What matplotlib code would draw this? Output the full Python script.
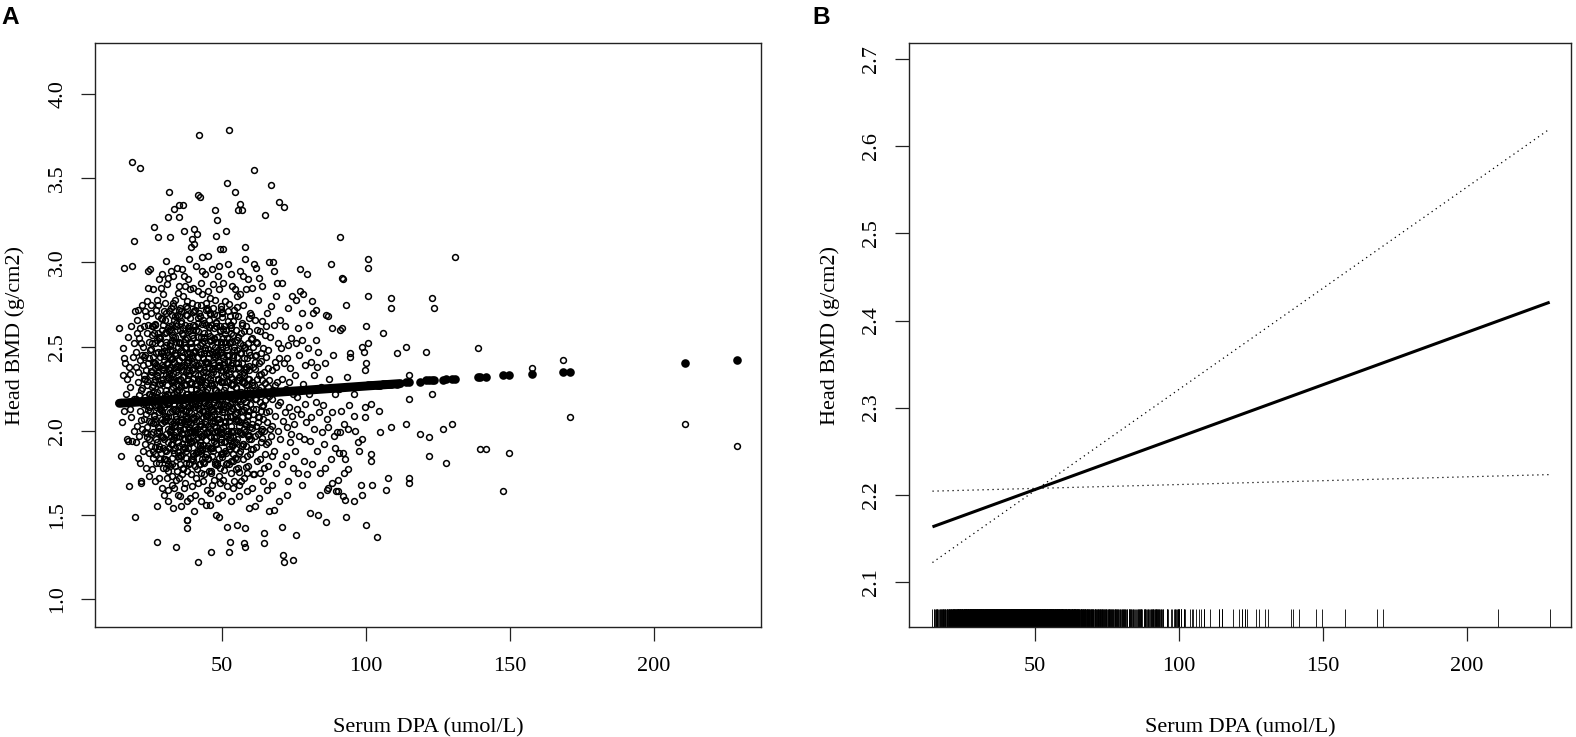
#!/usr/bin/env python3
"""Head BMD vs serum DPA: scatter with fitted values (A) and fitted line with CI + rug (B)."""

import matplotlib

matplotlib.use("Agg")
import matplotlib.pyplot as plt

# ---- scatter points (serum DPA, head BMD), grouped by DPA band ----
band_15 = [
    (14.5, 2.61), (14.9, 2.17), (15.1, 1.85), (15.3, 2.05), (15.6, 2.33), (15.8, 2.49), (16.2, 2.43),
    (16.2, 2.97), (16.5, 2.40), (16.8, 2.22), (17.0, 2.31), (17.2, 1.95), (17.4, 2.56), (17.6, 1.94),
    (17.9, 1.67), (18.0, 2.26), (18.3, 2.13), (18.3, 2.34), (18.6, 2.08), (18.8, 3.60), (18.9, 2.98),
    (19.0, 1.94), (19.2, 2.44), (19.5, 2.52), (19.7, 3.13), (19.8, 1.49), (19.9, 2.71), (19.4, 2.19),
    (18.5, 2.62), (17.7, 2.38), (16.0, 2.12), (19.6, 2.00),
]
band_20 = [
    (20.1, 2.47), (20.3, 2.19), (20.5, 2.03), (20.6, 2.66), (20.8, 1.84), (20.9, 2.29), (21.0, 2.35),
    (21.2, 1.97), (21.4, 2.55), (21.5, 2.12), (21.6, 3.56), (21.7, 2.42), (21.9, 1.69), (22.0, 1.70),
    (22.1, 2.24), (22.2, 2.01), (22.3, 2.75), (22.5, 2.16), (22.6, 2.39), (22.7, 1.88), (22.8, 2.50),
    (22.9, 2.07), (23.0, 2.62), (23.1, 2.31), (23.2, 1.92), (23.3, 2.20), (23.4, 2.71), (23.5, 2.45),
    (23.6, 1.78), (23.7, 2.10), (23.8, 2.36), (23.9, 2.58), (24.0, 2.02), (24.1, 2.27), (24.2, 1.96),
    (24.3, 2.95), (24.4, 2.85), (24.5, 2.40), (24.6, 2.14), (24.7, 1.73), (24.8, 2.53), (24.9, 2.22),
    (20.4, 1.93), (20.7, 2.58), (21.3, 2.21), (21.8, 2.61), (22.4, 2.45), (23.6, 2.68), (24.0, 2.77),
    (24.6, 1.87), (22.9, 2.33), (21.1, 2.72), (23.3, 1.99), (24.8, 2.06), (20.2, 2.38), (22.0, 2.52),
    (23.8, 2.15), (24.4, 2.63), (21.5, 1.81), (23.0, 2.44),
]
band_25 = [
    (25.0, 2.96), (25.1, 2.12), (25.2, 2.48), (25.3, 1.91), (25.4, 2.33), (25.5, 2.70), (25.6, 2.05),
    (25.7, 2.26), (25.8, 1.77), (25.9, 2.57), (26.0, 2.18), (26.1, 2.41), (26.2, 1.99), (26.3, 2.84),
    (26.4, 2.29), (26.5, 2.09), (26.6, 3.21), (26.7, 2.52), (26.8, 1.86), (26.9, 2.37), (27.0, 2.63),
    (27.1, 2.14), (27.2, 1.95), (27.3, 2.46), (27.4, 1.55), (27.5, 2.23), (27.6, 1.34), (27.7, 2.78),
    (27.8, 2.02), (27.9, 3.15), (28.0, 2.35), (28.1, 1.72), (28.2, 2.55), (28.3, 2.11), (28.4, 2.90),
    (28.5, 2.28), (28.6, 1.83), (28.7, 2.44), (28.8, 2.67), (28.9, 1.97), (29.0, 2.19), (29.1, 2.60),
    (29.2, 1.66), (29.3, 2.39), (29.4, 2.07), (29.5, 2.81), (29.6, 2.31), (29.7, 1.90), (29.8, 2.50),
    (29.9, 2.16), (25.2, 2.22), (25.7, 2.62), (26.0, 1.88), (26.3, 2.44), (26.8, 2.15), (27.1, 2.72),
    (27.5, 1.93), (27.9, 2.38), (28.3, 2.00), (28.7, 2.24), (29.2, 2.47), (29.6, 1.78), (25.5, 1.98),
    (26.5, 2.58), (27.3, 1.81), (28.0, 2.68), (28.9, 2.30), (29.4, 2.93), (25.9, 2.35), (26.9, 2.05),
    (27.7, 2.20), (28.5, 2.52), (29.8, 2.06), (25.3, 2.75), (26.2, 2.27), (27.0, 1.70), (27.8, 2.58),
    (28.6, 2.13), (29.5, 2.36), (29.9, 1.62), (26.6, 2.40), (28.2, 1.89), (29.1, 2.12), (25.8, 2.52),
    (27.4, 2.33), (28.8, 2.85),
]
band_30 = [
    (30.0, 2.42), (30.1, 1.95), (30.2, 2.21), (30.3, 2.66), (30.4, 1.83), (30.5, 2.33), (30.6, 2.08),
    (30.7, 3.01), (30.8, 2.51), (30.9, 1.72), (31.0, 2.27), (31.1, 2.87), (31.2, 2.01), (31.3, 2.45),
    (31.4, 2.16), (31.5, 3.27), (31.6, 1.90), (31.7, 2.59), (31.8, 3.42), (31.9, 2.36), (32.0, 3.15),
    (32.1, 2.11), (32.2, 1.79), (32.3, 2.73), (32.4, 2.25), (32.5, 1.97), (32.6, 2.48), (32.7, 2.04),
    (32.8, 2.63), (32.9, 1.68), (33.0, 2.30), (33.1, 2.92), (33.2, 1.54), (33.3, 2.19), (33.4, 3.32),
    (33.5, 2.41), (33.6, 1.87), (33.7, 2.56), (33.8, 2.13), (33.9, 2.78), (34.0, 1.99), (34.1, 1.31),
    (34.2, 2.35), (34.3, 2.07), (34.4, 2.69), (34.5, 1.76), (34.6, 2.23), (34.7, 2.50), (34.8, 1.93),
    (34.9, 2.82), (30.1, 2.14), (30.4, 2.58), (30.7, 1.88), (31.0, 2.40), (31.3, 1.65), (31.6, 2.71),
    (31.9, 2.06), (32.2, 2.38), (32.5, 2.95), (32.8, 1.84), (33.1, 2.26), (33.4, 1.96), (33.7, 2.45),
    (34.0, 2.62), (34.3, 1.71), (34.6, 2.18), (34.9, 2.33), (30.2, 2.76), (30.6, 1.98), (31.1, 2.22),
    (31.5, 1.80), (32.0, 2.52), (32.4, 2.01), (32.9, 2.43), (33.3, 2.66), (33.8, 1.90), (34.2, 2.12),
    (34.7, 1.62), (30.3, 2.09), (30.9, 2.47), (31.4, 2.91), (31.8, 2.17), (32.3, 1.92), (32.7, 2.29),
    (33.2, 2.74), (33.6, 2.03), (34.1, 2.53), (34.5, 2.28), (34.8, 2.06), (30.5, 1.78), (31.2, 2.61),
    (32.1, 2.44), (32.6, 1.73), (33.0, 1.95), (33.5, 2.16), (34.4, 2.39), (34.9, 1.85), (31.7, 2.34),
    (33.9, 2.20), (30.8, 2.20), (32.9, 2.57), (34.6, 2.97), (31.4, 1.58), (33.6, 1.66),
]
band_35 = [
    (35.0, 2.24), (35.1, 1.97), (35.2, 2.52), (35.3, 3.34), (35.3, 3.27), (35.4, 2.10), (35.5, 1.61),
    (35.6, 2.38), (35.7, 2.71), (35.8, 1.85), (35.9, 2.30), (36.0, 2.05), (36.1, 2.58), (36.2, 1.92),
    (36.3, 2.44), (36.4, 2.15), (36.5, 3.34), (36.6, 2.80), (36.7, 1.77), (36.8, 3.19), (36.9, 2.27),
    (37.0, 2.01), (37.1, 2.49), (37.2, 2.19), (37.3, 1.69), (37.4, 2.63), (37.5, 2.35), (37.6, 1.88),
    (37.7, 2.09), (37.8, 1.47), (37.8, 1.42), (37.9, 2.55), (38.0, 2.22), (38.1, 1.47), (38.2, 2.90),
    (38.3, 1.99), (38.4, 2.42), (38.5, 2.12), (38.6, 3.02), (38.7, 1.81), (38.8, 2.33), (38.9, 2.67),
    (39.0, 2.04), (39.1, 2.46), (39.2, 1.74), (39.3, 3.09), (39.4, 2.25), (39.5, 1.94), (39.6, 2.57),
    (39.7, 2.16), (39.8, 2.76), (39.9, 1.87), (35.1, 2.42), (35.4, 1.80), (35.7, 2.18), (36.0, 2.64),
    (36.3, 1.98), (36.6, 2.32), (36.9, 1.66), (37.2, 2.86), (37.5, 2.07), (37.8, 2.40), (38.1, 2.73),
    (38.4, 1.90), (38.7, 2.20), (39.0, 2.60), (39.3, 1.83), (39.6, 2.36), (39.9, 2.08), (35.2, 2.86),
    (35.6, 2.03), (36.1, 2.23), (36.5, 1.89), (36.8, 2.53), (37.1, 2.12), (37.4, 1.95), (37.7, 2.74),
    (38.0, 1.58), (38.3, 2.31), (38.6, 2.02), (38.9, 2.15), (39.2, 2.50), (39.5, 2.29), (39.8, 1.99),
    (35.3, 1.72), (35.8, 2.48), (36.2, 2.96), (36.7, 2.10), (37.0, 2.39), (37.3, 2.27), (37.9, 1.76),
    (38.2, 2.14), (38.5, 2.59), (38.8, 1.95), (39.1, 2.84), (39.4, 2.00), (39.7, 1.67), (35.5, 2.60),
    (36.4, 1.78), (37.6, 2.50), (38.4, 2.05), (39.2, 2.21), (36.0, 1.55), (37.0, 2.92), (38.0, 2.46),
    (39.0, 1.60), (39.8, 2.43), (35.9, 2.13), (38.7, 2.36), (36.6, 2.01), (37.5, 1.84), (35.0, 2.68),
    (39.6, 3.14),
]
band_40 = [
    (40.0, 2.21), (40.1, 1.94), (40.2, 2.47), (40.3, 2.07), (40.4, 3.11), (40.5, 3.20), (40.6, 2.34),
    (40.7, 1.79), (40.8, 2.62), (40.9, 2.14), (41.0, 2.39), (41.1, 1.87), (41.2, 2.53), (41.3, 2.01),
    (41.4, 3.17), (41.5, 2.27), (41.6, 1.69), (41.7, 3.40), (41.8, 1.22), (41.9, 2.44), (42.0, 3.76),
    (42.1, 2.10), (42.2, 2.70), (42.3, 1.93), (42.4, 2.31), (42.5, 3.39), (42.6, 2.18), (42.7, 1.58),
    (42.8, 2.56), (42.9, 2.04), (43.0, 2.81), (43.1, 2.24), (43.2, 3.03), (43.3, 1.83), (43.4, 2.43),
    (43.5, 2.12), (43.6, 2.66), (43.7, 1.98), (43.8, 2.36), (43.9, 1.74), (44.0, 2.20), (44.1, 2.93),
    (44.2, 2.06), (44.3, 2.49), (44.4, 1.90), (44.5, 2.29), (44.6, 2.76), (44.7, 2.15), (44.8, 1.65),
    (44.9, 2.41), (40.1, 2.60), (40.4, 2.00), (40.7, 2.28), (41.0, 1.72), (41.3, 2.75), (41.6, 2.15),
    (41.9, 1.96), (42.2, 2.37), (42.5, 2.03), (42.8, 2.88), (43.1, 1.89), (43.4, 2.21), (43.7, 2.55),
    (44.0, 1.81), (44.3, 2.12), (44.6, 2.35), (44.9, 1.99), (40.2, 1.85), (40.6, 2.72), (41.1, 2.22),
    (41.5, 1.92), (41.9, 2.64), (42.3, 2.47), (42.7, 2.26), (43.0, 1.97), (43.5, 1.70), (43.9, 2.58),
    (44.2, 2.41), (44.7, 1.86), (40.3, 2.41), (40.8, 1.99), (41.2, 2.09), (41.7, 2.33), (42.1, 1.80),
    (42.6, 2.68), (43.2, 2.30), (43.6, 2.08), (44.1, 2.27), (44.5, 2.63), (44.8, 2.10), (40.0, 2.85),
    (40.9, 1.62), (41.4, 2.50), (42.0, 2.13), (42.9, 2.40), (43.3, 2.95), (43.8, 2.17), (44.4, 1.56),
    (40.5, 1.52), (41.8, 2.83), (42.4, 1.88), (43.0, 2.52), (44.0, 2.46), (44.9, 2.73), (41.0, 2.98),
    (42.7, 1.75), (43.9, 2.02), (40.6, 2.16), (42.2, 2.23),
]
band_45 = [
    (45.0, 2.25), (45.1, 1.91), (45.2, 2.58), (45.3, 2.03), (45.4, 3.04), (45.5, 2.37), (45.6, 1.76),
    (45.7, 2.46), (45.8, 2.14), (45.9, 2.79), (46.0, 1.97), (46.1, 2.31), (46.2, 1.28), (46.3, 2.09),
    (46.4, 2.63), (46.5, 1.85), (46.6, 2.20), (46.7, 2.51), (46.8, 1.68), (46.9, 2.40), (47.0, 2.06),
    (47.1, 2.87), (47.2, 2.28), (47.3, 1.94), (47.4, 2.55), (47.5, 2.17), (47.6, 1.80), (47.7, 2.44),
    (47.8, 3.31), (47.9, 3.16), (48.0, 1.50), (48.1, 2.34), (48.2, 3.25), (48.3, 2.00), (48.4, 2.69),
    (48.5, 2.12), (48.6, 1.89), (48.7, 2.48), (48.8, 2.23), (48.9, 2.98), (49.0, 1.73), (49.1, 1.49),
    (49.2, 2.38), (49.3, 2.05), (49.4, 3.08), (49.5, 2.60), (49.6, 1.95), (49.7, 2.29), (49.8, 2.74),
    (49.9, 2.15), (45.1, 2.43), (45.4, 1.83), (45.7, 2.08), (46.0, 2.70), (46.3, 2.33), (46.6, 1.90),
    (46.9, 2.12), (47.2, 2.61), (47.5, 1.71), (47.8, 2.24), (48.1, 2.02), (48.4, 1.81), (48.7, 2.92),
    (49.0, 2.41), (49.3, 2.19), (49.6, 2.53), (49.9, 1.86), (45.2, 2.16), (45.6, 2.66), (46.1, 1.63),
    (46.5, 2.47), (46.8, 2.27), (47.3, 2.39), (47.7, 1.99), (48.2, 2.56), (48.6, 2.30), (49.1, 2.07),
    (49.5, 1.78), (49.8, 2.36), (45.3, 2.83), (45.9, 2.19), (46.4, 1.96), (46.9, 2.73), (47.4, 2.10),
    (47.9, 1.92), (48.3, 2.45), (48.8, 1.60), (49.2, 2.84), (49.7, 2.01), (45.5, 1.99), (46.2, 2.54),
    (47.0, 2.35), (47.6, 2.50), (48.5, 2.21), (49.4, 1.69), (45.8, 1.56), (46.7, 2.96), (47.1, 1.88),
    (48.0, 2.64), (48.9, 2.13), (49.8, 2.47), (46.3, 1.76), (47.5, 2.03), (48.7, 2.00), (49.3, 2.62),
]
band_50 = [
    (50.0, 2.18), (50.1, 1.86), (50.2, 2.50), (50.3, 2.02), (50.4, 2.32), (50.5, 3.08), (50.6, 1.71),
    (50.7, 2.62), (50.8, 2.11), (50.9, 2.41), (51.0, 1.94), (51.1, 2.26), (51.2, 2.77), (51.3, 2.06),
    (51.4, 1.80), (51.5, 3.19), (51.6, 2.36), (51.7, 1.43), (51.8, 2.15), (51.9, 3.47), (52.0, 2.55),
    (52.1, 2.99), (52.2, 1.98), (52.3, 2.29), (52.4, 1.28), (52.5, 3.79), (52.6, 2.45), (52.7, 1.89),
    (52.8, 2.09), (52.9, 1.34), (53.0, 2.68), (53.1, 2.22), (53.2, 1.75), (53.3, 2.39), (53.4, 2.03),
    (53.5, 2.86), (53.6, 1.92), (53.7, 2.31), (53.8, 2.57), (53.9, 2.13), (54.0, 1.66), (54.1, 2.44),
    (54.2, 2.00), (54.3, 2.72), (54.4, 2.19), (54.5, 1.84), (54.6, 3.42), (54.7, 2.34), (54.8, 2.07),
    (54.9, 2.60), (50.1, 2.70), (50.4, 1.99), (50.7, 2.24), (51.0, 2.53), (51.3, 1.88), (51.6, 2.14),
    (51.9, 2.48), (52.2, 2.71), (52.5, 1.95), (52.8, 2.37), (53.1, 1.58), (53.4, 2.58), (53.7, 1.99),
    (54.0, 2.28), (54.3, 1.93), (54.6, 2.10), (54.9, 1.77), (50.2, 1.62), (50.6, 2.39), (51.1, 2.05),
    (51.5, 2.33), (52.0, 1.81), (52.4, 2.20), (52.9, 2.63), (53.3, 2.12), (53.8, 1.86), (54.2, 2.50),
    (54.7, 2.84), (50.3, 2.88), (50.9, 2.16), (51.4, 2.60), (52.1, 2.41), (52.6, 2.06), (53.2, 2.93),
    (53.6, 2.27), (54.4, 1.70), (54.8, 2.40), (50.8, 1.93), (51.8, 1.67), (52.7, 2.52), (53.5, 2.17),
    (54.1, 2.65), (50.0, 2.45), (53.0, 1.96), (54.5, 2.22),
]
band_55 = [
    (55.0, 2.26), (55.1, 1.93), (55.2, 2.54), (55.3, 1.44), (55.4, 2.11), (55.5, 3.31), (55.6, 2.37),
    (55.7, 1.78), (55.8, 2.68), (55.9, 2.03), (56.0, 2.30), (56.1, 1.87), (56.2, 2.46), (56.3, 3.35),
    (56.4, 2.16), (56.5, 2.81), (56.6, 1.70), (56.7, 2.23), (56.8, 2.58), (56.9, 1.98), (57.0, 2.40),
    (57.1, 3.31), (57.2, 2.08), (57.3, 1.83), (57.4, 2.75), (57.5, 2.19), (57.6, 1.33), (57.7, 2.49),
    (57.8, 2.01), (57.9, 2.33), (58.0, 1.31), (58.1, 1.42), (58.1, 3.09), (58.2, 3.02), (58.3, 2.14),
    (58.4, 1.91), (58.5, 2.62), (58.6, 2.27), (58.7, 1.64), (58.8, 2.43), (58.9, 2.06), (59.0, 2.90),
    (59.1, 2.20), (59.2, 1.79), (59.3, 2.52), (59.4, 2.12), (59.5, 2.36), (59.6, 1.95), (59.7, 2.70),
    (59.8, 2.25), (59.9, 1.86), (55.2, 2.80), (55.6, 2.00), (56.0, 1.61), (56.4, 2.52), (56.8, 2.12),
    (57.2, 2.63), (57.6, 2.29), (58.0, 2.50), (58.4, 2.38), (58.8, 1.75), (59.2, 2.09), (59.6, 2.59),
    (55.4, 2.44), (55.9, 1.68), (56.5, 2.05), (57.0, 1.91), (57.5, 2.92), (58.2, 1.99), (58.6, 2.84),
    (59.0, 2.31), (59.5, 1.54), (59.9, 2.45), (55.7, 2.18), (56.2, 2.95), (56.9, 2.34), (57.8, 1.72),
    (58.5, 2.17), (59.3, 1.97), (59.8, 2.02),
]
band_60 = [
    (60.0, 2.20), (60.2, 1.89), (60.4, 2.55), (60.6, 2.04), (60.8, 2.38), (61.0, 1.74), (61.1, 2.99),
    (61.2, 3.55), (61.3, 2.27), (61.5, 2.66), (61.6, 1.97), (61.8, 2.97), (61.9, 2.13), (62.0, 2.45),
    (62.2, 1.82), (62.4, 2.31), (62.5, 2.78), (62.7, 2.08), (62.9, 1.60), (63.0, 2.40), (63.2, 2.17),
    (63.4, 2.59), (63.5, 1.93), (63.7, 2.26), (63.9, 2.86), (64.0, 2.01), (64.2, 1.70), (64.4, 2.49),
    (64.5, 2.15), (64.7, 1.39), (64.7, 1.33), (64.8, 2.35), (64.9, 1.86), (60.1, 2.69), (60.5, 2.29),
    (60.9, 2.10), (61.4, 1.55), (61.7, 2.41), (62.1, 2.60), (62.6, 1.98), (63.1, 2.33), (63.6, 2.00),
    (64.1, 2.65), (64.6, 1.78), (60.3, 1.95), (60.7, 2.85), (61.5, 2.19), (62.3, 2.52), (62.8, 2.24),
    (63.3, 1.75), (63.8, 2.46), (64.3, 2.07), (64.9, 2.57), (60.6, 1.66), (62.0, 2.03), (63.0, 2.91),
    (64.0, 2.30), (61.0, 2.50), (63.5, 2.12),
]
band_65 = [
    (65.0, 2.18), (65.2, 3.28), (65.3, 1.92), (65.5, 2.44), (65.7, 2.05), (65.9, 2.70), (66.1, 1.79),
    (66.3, 2.30), (66.5, 3.00), (66.6, 2.12), (66.8, 2.56), (67.0, 1.97), (67.1, 3.46), (67.3, 2.36),
    (67.5, 1.68), (67.7, 3.00), (67.8, 2.24), (68.0, 2.63), (68.2, 1.88), (68.4, 2.41), (68.6, 2.09),
    (68.8, 2.80), (69.0, 1.75), (69.2, 2.29), (69.4, 2.52), (69.6, 2.00), (69.8, 1.58), (65.4, 2.62),
    (65.8, 1.65), (66.2, 2.48), (66.7, 2.01), (67.2, 2.74), (67.6, 2.19), (68.1, 1.53), (68.5, 2.27),
    (69.1, 2.88), (69.5, 2.15), (66.0, 2.26), (67.4, 1.85), (68.9, 2.38), (66.4, 1.52), (68.3, 2.95),
    (69.9, 2.43),
]
band_70 = [
    (70.0, 3.36), (70.2, 2.17), (70.4, 1.95), (70.6, 2.49), (70.8, 1.43), (71.0, 2.31), (71.2, 2.06),
    (71.4, 1.26), (71.6, 1.22), (71.8, 3.33), (72.0, 2.62), (72.2, 1.85), (72.4, 2.25), (72.6, 2.02),
    (72.8, 2.43), (73.0, 1.70), (73.2, 2.73), (73.4, 2.14), (73.6, 1.93), (73.8, 2.37), (74.0, 2.55),
    (74.3, 2.80), (74.5, 2.09), (74.7, 1.78), (74.9, 1.23), (70.3, 2.66), (70.9, 1.80), (71.5, 2.40),
    (72.1, 2.11), (72.7, 1.62), (73.3, 2.29), (73.9, 1.98), (74.6, 2.22), (71.1, 2.88), (72.9, 2.51),
]
band_75 = [
    (75.1, 2.04), (75.3, 2.33), (75.5, 1.88), (75.9, 2.78), (75.9, 1.38), (76.2, 2.20), (76.5, 2.61),
    (76.8, 1.97), (77.0, 2.45), (77.2, 2.96), (77.2, 2.83), (77.5, 2.10), (77.8, 2.70), (77.9, 1.68),
    (78.1, 2.28), (78.3, 2.81), (78.6, 1.82), (78.9, 2.39), (79.2, 2.05), (79.5, 2.93), (79.7, 1.74),
    (75.7, 2.52), (76.6, 1.75), (78.0, 2.54), (79.0, 2.16), (79.9, 2.49), (76.0, 2.13), (78.5, 1.95),
]
band_80 = [
    (80.8, 1.51), (81.3, 2.77), (81.8, 2.70), (82.6, 2.72), (82.7, 2.54), (83.3, 1.50), (80.2, 2.22),
    (80.5, 1.94), (80.9, 2.41), (81.1, 2.08), (81.5, 1.80), (81.9, 2.33), (82.2, 2.01), (82.9, 2.17),
    (83.2, 1.88), (83.6, 2.47), (83.9, 2.11), (84.2, 1.75), (84.5, 2.26), (84.8, 1.99), (83.0, 2.38),
    (84.0, 1.62), (80.4, 2.63),
]
band_85 = [
    (85.2, 2.15), (85.6, 1.92), (86.2, 2.69), (86.3, 1.46), (86.5, 2.07), (86.5, 1.65), (86.8, 2.68),
    (86.8, 1.66), (87.3, 2.31), (87.8, 1.83), (88.1, 2.99), (88.2, 2.61), (88.2, 2.11), (88.3, 1.69),
    (88.5, 2.45), (89.0, 1.97), (89.3, 2.22), (89.7, 1.64), (85.8, 2.40), (87.0, 2.02), (89.5, 1.90),
    (86.0, 1.78),
]
band_90 = [
    (90.1, 1.99), (90.3, 1.64), (90.4, 1.71), (91.1, 3.15), (91.1, 2.60), (91.1, 1.99), (91.8, 2.91),
    (91.9, 2.61), (92.0, 2.90), (92.1, 1.61), (92.2, 1.87), (92.5, 1.75), (92.6, 2.04), (92.8, 1.83),
    (92.8, 1.59), (93.2, 2.75), (93.2, 1.49), (93.4, 2.32), (94.0, 1.77), (94.5, 2.44), (94.6, 2.46),
    (90.6, 2.25), (91.5, 2.12), (93.8, 2.01), (94.2, 2.15), (90.8, 1.87),
]
band_95 = [
    (95.9, 2.22), (95.9, 1.58), (96.0, 2.09), (96.3, 2.00), (97.3, 1.93), (97.6, 1.88), (98.3, 1.68),
    (98.6, 2.50), (98.7, 1.95), (98.9, 1.62), (99.4, 2.47), (99.7, 2.08), (99.8, 2.36), (99.8, 2.14),
    (100.0, 2.62), (100.0, 2.40), (100.0, 1.44),
]
tail_pts = [
    (100.9, 3.02), (100.9, 2.97), (100.9, 2.80), (100.9, 2.52), (101.8, 2.16), (101.8, 1.86),
    (101.8, 1.82), (102.2, 1.68), (103.8, 1.37), (104.7, 2.12), (105.0, 1.99), (105.9, 2.58),
    (106.9, 1.65), (107.9, 1.72), (108.8, 2.02), (108.9, 2.79), (108.9, 2.73), (110.9, 2.46),
    (113.9, 2.50), (113.9, 2.04), (115.0, 2.33), (114.9, 2.19), (115.0, 1.72), (115.0, 1.69),
    (119.0, 1.98), (120.9, 2.47), (121.9, 1.96), (121.9, 1.85), (122.9, 2.79), (123.8, 2.73),
    (122.9, 2.22), (126.8, 2.01), (127.9, 1.81), (129.9, 2.04), (130.9, 3.03), (138.9, 2.49),
    (139.8, 1.89), (141.8, 1.89), (147.8, 1.64), (149.9, 1.87), (157.9, 2.37), (168.7, 2.42),
    (170.8, 2.08), (210.8, 2.04), (228.8, 1.91),
]

# extra points in the dark core (DPA ~22-67, BMD ~1.75-2.78), by BMD level
core_178 = [
    (28.4, 1.81), (31.2, 1.76), (33.9, 1.79), (36.1, 1.745), (38.8, 1.805), (41.3, 1.775), (43.6, 1.815),
    (46.2, 1.75), (48.5, 1.795), (50.7, 1.765), (53.3, 1.82), (55.9, 1.755), (58.4, 1.785), (61.1, 1.74),
]
core_182 = [
    (30.0, 1.83), (32.6, 1.805), (35.0, 1.84), (37.6, 1.81), (40.1, 1.825), (42.6, 1.80), (45.1, 1.835),
    (47.6, 1.815), (50.1, 1.845), (52.7, 1.805), (55.3, 1.83),
]
core_186 = [
    (26.3, 1.84), (28.9, 1.87), (31.0, 1.825), (33.2, 1.885), (35.6, 1.855), (37.4, 1.895), (39.7, 1.83),
    (41.9, 1.875), (44.1, 1.845), (46.8, 1.90), (49.2, 1.835), (51.6, 1.865), (53.9, 1.82), (56.4, 1.88),
    (58.7, 1.85), (60.9, 1.89), (63.2, 1.83), (42.8, 1.87),
]
core_190 = [
    (28.1, 1.91), (30.4, 1.885), (32.8, 1.92), (34.7, 1.875), (36.9, 1.905), (39.2, 1.93), (41.4, 1.88),
    (43.5, 1.915), (45.8, 1.895), (48.1, 1.925), (50.3, 1.87), (52.6, 1.91), (54.9, 1.89), (57.3, 1.92),
]
core_194 = [
    (24.8, 1.95), (26.9, 1.905), (29.3, 1.965), (31.5, 1.935), (33.6, 1.975), (35.2, 1.91), (37.0, 1.955),
    (38.9, 1.925), (40.6, 1.98), (42.4, 1.915), (44.5, 1.945), (46.3, 1.90), (48.0, 1.96), (49.8, 1.93),
    (51.9, 1.97), (53.6, 1.91), (55.4, 1.95), (57.5, 1.92), (59.6, 1.975), (61.8, 1.905), (64.1, 1.955),
    (66.2, 1.935),
]
core_198 = [
    (27.4, 1.99), (29.7, 1.96), (31.9, 2.00), (34.0, 1.965), (36.2, 1.985), (38.4, 1.955), (40.7, 2.005),
    (42.9, 1.97), (45.0, 1.995), (47.3, 1.96), (49.6, 1.98), (51.8, 2.00), (54.1, 1.965), (56.5, 1.99),
    (59.0, 1.975),
]
core_202 = [
    (23.9, 1.985), (26.1, 2.045), (28.2, 2.015), (30.3, 2.055), (32.0, 1.99), (33.8, 2.035), (35.5, 2.005),
    (37.3, 2.06), (39.1, 1.995), (40.9, 2.025), (42.6, 1.98), (44.3, 2.04), (46.0, 2.01), (47.7, 2.05),
    (49.5, 1.99), (51.3, 2.03), (53.1, 2.00), (54.8, 2.055), (56.7, 1.985), (58.5, 2.035), (60.4, 2.015),
    (62.6, 2.05), (64.8, 2.00), (67.3, 2.03),
]
core_206 = [
    (27.0, 2.07), (29.2, 2.045), (31.3, 2.08), (33.4, 2.05), (35.7, 2.065), (37.9, 2.04), (40.0, 2.075),
    (42.1, 2.055), (44.4, 2.085), (46.6, 2.045), (48.8, 2.07), (51.0, 2.05), (53.3, 2.08), (55.7, 2.06),
    (58.2, 2.045),
]
core_210 = [
    (24.4, 2.125), (26.6, 2.095), (28.7, 2.135), (30.8, 2.07), (32.6, 2.115), (34.3, 2.085), (36.0, 2.14),
    (37.8, 2.075), (39.5, 2.105), (41.2, 2.06), (43.1, 2.12), (44.8, 2.09), (46.6, 2.13), (48.3, 2.07),
    (50.1, 2.11), (51.8, 2.08), (53.7, 2.135), (55.5, 2.065), (57.2, 2.115), (59.1, 2.095), (61.0, 2.13),
    (63.1, 2.08), (65.4, 2.11), (21.9, 2.065),
]
core_214 = [
    (26.7, 2.15), (28.9, 2.125), (31.0, 2.16), (33.1, 2.13), (35.3, 2.145), (37.5, 2.12), (39.7, 2.155),
    (41.8, 2.135), (44.0, 2.165), (46.2, 2.125), (48.4, 2.15), (50.6, 2.13), (52.9, 2.16), (55.2, 2.14),
    (57.6, 2.125),
]
core_218 = [
    (23.5, 2.175), (25.7, 2.215), (27.8, 2.15), (29.9, 2.195), (31.7, 2.165), (33.4, 2.22), (35.1, 2.155),
    (36.9, 2.185), (38.6, 2.14), (40.4, 2.20), (42.2, 2.17), (43.9, 2.21), (45.7, 2.15), (47.4, 2.19),
    (49.1, 2.16), (50.9, 2.215), (52.7, 2.145), (54.4, 2.195), (56.2, 2.175), (58.0, 2.21), (59.8, 2.16),
    (61.9, 2.19), (64.0, 2.145), (66.6, 2.205),
]
core_226 = [
    (24.1, 2.295), (26.3, 2.23), (28.4, 2.275), (30.5, 2.245), (32.3, 2.30), (34.0, 2.235), (35.8, 2.265),
    (37.5, 2.22), (39.2, 2.28), (41.0, 2.25), (42.8, 2.29), (44.6, 2.23), (46.3, 2.27), (48.0, 2.24),
    (49.8, 2.295), (51.5, 2.225), (53.3, 2.275), (55.1, 2.255), (56.9, 2.29), (58.7, 2.24), (60.6, 2.27),
    (62.8, 2.225), (65.1, 2.285), (22.3, 2.255),
]
core_230 = [
    (26.9, 2.31), (29.1, 2.285), (31.2, 2.32), (33.3, 2.29), (35.5, 2.305), (37.7, 2.28), (39.9, 2.315),
    (42.0, 2.295), (44.2, 2.325), (46.4, 2.285), (48.6, 2.31), (50.8, 2.29), (53.1, 2.32), (55.4, 2.30),
    (57.8, 2.285),
]
core_234 = [
    (23.2, 2.31), (25.4, 2.355), (27.5, 2.325), (29.6, 2.38), (31.4, 2.315), (33.1, 2.345), (34.9, 2.30),
    (36.6, 2.36), (38.3, 2.33), (40.1, 2.37), (41.9, 2.31), (43.6, 2.35), (45.4, 2.32), (47.1, 2.375),
    (48.8, 2.305), (50.6, 2.355), (52.4, 2.335), (54.1, 2.37), (55.9, 2.32), (57.7, 2.35), (59.5, 2.305),
    (61.5, 2.365), (63.7, 2.335), (66.1, 2.375),
]
core_238 = [
    (27.2, 2.39), (29.4, 2.365), (31.5, 2.40), (33.6, 2.37), (35.8, 2.385), (38.0, 2.36), (40.2, 2.395),
    (42.3, 2.375), (44.5, 2.405), (46.7, 2.365), (48.9, 2.39), (51.2, 2.37), (53.5, 2.40), (55.9, 2.38),
    (58.4, 2.365),
]
core_242 = [
    (24.7, 2.435), (26.9, 2.405), (29.0, 2.46), (31.1, 2.395), (32.9, 2.425), (34.6, 2.38), (36.3, 2.44),
    (38.1, 2.41), (39.8, 2.45), (41.6, 2.39), (43.4, 2.43), (45.1, 2.40), (46.9, 2.455), (48.6, 2.385),
    (50.4, 2.435), (52.1, 2.415), (53.9, 2.45), (55.7, 2.40), (57.6, 2.43), (59.4, 2.385), (61.4, 2.445),
    (63.6, 2.415),
]
core_246 = [
    (27.8, 2.47), (30.0, 2.445), (32.1, 2.48), (34.2, 2.45), (36.4, 2.465), (38.6, 2.44), (40.8, 2.475),
    (42.9, 2.455), (45.1, 2.485), (47.3, 2.445), (49.5, 2.47), (51.8, 2.45), (54.2, 2.48), (56.7, 2.46),
]
core_250 = [
    (25.3, 2.485), (27.6, 2.54), (29.8, 2.475), (31.9, 2.505), (33.7, 2.46), (35.4, 2.52), (37.2, 2.49),
    (39.0, 2.53), (40.8, 2.47), (42.5, 2.51), (44.3, 2.48), (46.1, 2.535), (47.9, 2.465), (49.7, 2.515),
    (51.6, 2.495), (53.5, 2.53), (55.4, 2.48), (57.4, 2.51), (59.6, 2.465), (62.0, 2.525),
]
core_254 = [
    (28.5, 2.55), (30.8, 2.525), (33.0, 2.56), (35.1, 2.53), (37.3, 2.545), (39.5, 2.52), (41.7, 2.555),
    (43.9, 2.535), (46.1, 2.565), (48.3, 2.525), (50.6, 2.55), (53.0, 2.53), (55.6, 2.56),
]
core_258 = [
    (26.0, 2.62), (28.3, 2.555), (30.6, 2.585), (32.7, 2.54), (34.5, 2.60), (36.4, 2.57), (38.2, 2.61),
    (40.0, 2.55), (41.8, 2.59), (43.7, 2.56), (45.6, 2.615), (47.5, 2.545), (49.4, 2.595), (51.3, 2.575),
    (53.3, 2.61), (55.5, 2.56), (57.8, 2.59), (60.3, 2.545),
]
core_262 = [
    (29.5, 2.63), (31.9, 2.605), (34.2, 2.64), (36.4, 2.61), (38.7, 2.625), (41.0, 2.60), (43.3, 2.635),
    (45.6, 2.615), (48.0, 2.645), (50.5, 2.605), (53.1, 2.63),
]
core_266 = [
    (26.8, 2.635), (29.2, 2.665), (31.6, 2.62), (33.9, 2.68), (35.9, 2.65), (37.9, 2.69), (39.9, 2.63),
    (41.9, 2.67), (43.9, 2.64), (45.9, 2.695), (47.9, 2.625), (50.0, 2.675), (52.2, 2.655), (54.5, 2.69),
    (56.9, 2.64), (59.4, 2.67),
]
core_270 = [
    (30.1, 2.71), (32.7, 2.685), (35.1, 2.72), (37.5, 2.69), (39.9, 2.705), (42.3, 2.68), (44.7, 2.715),
    (47.2, 2.695), (49.8, 2.725),
]
core_274 = [
    (28.0, 2.745), (30.7, 2.70), (33.2, 2.76), (35.6, 2.73), (38.0, 2.77), (40.4, 2.71), (42.8, 2.75),
    (45.2, 2.72), (47.6, 2.775), (50.1, 2.705), (52.7, 2.755), (55.4, 2.735),
]

# ---- fitted values (panel A): continuous band + separate filled dots ----
fit_band_x = [14.5, 112.0]
fit_band_y = [2.163, 2.280]
fit_dot_x = [100.9, 101.8, 103.8, 104.7, 105.0, 105.9, 106.9, 107.9, 108.8, 110.9, 113.9, 115.0,
             119.0, 120.9, 121.9, 122.9, 123.8, 126.8, 127.9, 129.9, 130.9, 138.9, 139.8, 141.8,
             147.8, 149.9, 157.9, 168.7, 170.8, 210.8, 228.8]
fit_dot_y = [2.27, 2.27, 2.27, 2.27, 2.27, 2.28, 2.28, 2.28, 2.28, 2.28, 2.29, 2.29,
             2.29, 2.30, 2.30, 2.30, 2.30, 2.30, 2.31, 2.31, 2.31, 2.32, 2.32, 2.32,
             2.33, 2.33, 2.34, 2.35, 2.35, 2.40, 2.42]

# ---- panel B: fitted line and the two dotted bounds ----
line_x = [14.5, 228.8]
line_fit = [2.163, 2.421]
line_bound_a = [2.122, 2.620]
line_bound_b = [2.204, 2.223]

x_ticks = [50, 100, 150, 200]
y_ticks_a = [1.0, 1.5, 2.0, 2.5, 3.0, 3.5, 4.0]
y_ticks_b = [2.1, 2.2, 2.3, 2.4, 2.5, 2.6, 2.7]

points = (band_15 + band_20 + band_25 + band_30 + band_35 + band_40 + band_45 + band_50
          + band_55 + band_60 + band_65 + band_70 + band_75 + band_80 + band_85 + band_90
          + band_95 + tail_pts
          + core_178 + core_182 + core_186 + core_190 + core_194 + core_198 + core_202
          + core_206 + core_210 + core_214 + core_218 + core_226 + core_230 + core_234
          + core_238 + core_242 + core_246 + core_250 + core_254 + core_258 + core_262
          + core_266 + core_270 + core_274)
dpa = [p[0] for p in points]
bmd = [p[1] for p in points]

SERIF = ["Liberation Serif", "DejaVu Serif"]
SANS = ["Liberation Sans", "DejaVu Sans"]
FS = 16
W, H = 1576, 737


def style_axes(ax, xlim, ylim, yticks):
    ax.set_xlim(*xlim)
    ax.set_ylim(*ylim)
    ax.set_xticks(x_ticks)
    ax.set_xticklabels([str(v) for v in x_ticks], fontfamily=SERIF, fontsize=FS)
    ax.set_yticks(yticks)
    ax.set_yticklabels([f"{v:.1f}" for v in yticks], fontfamily=SERIF, fontsize=FS,
                       rotation=90, va="center")
    ax.tick_params(axis="both", direction="out", length=10, width=0.9, color="#222222")
    ax.tick_params(axis="x", pad=12)
    ax.tick_params(axis="y", pad=10)
    for sp in ax.spines.values():
        sp.set_linewidth(1.0)
        sp.set_color("#222222")


fig = plt.figure(figsize=(W / 100, H / 100), dpi=100)
ax_a = fig.add_axes([95 / W, 1 - 626.7 / H, 665.7 / W, 583.4 / H])
ax_b = fig.add_axes([909 / W, 1 - 626.7 / H, 661.7 / W, 583.4 / H])

# panel A
ax_a.plot(dpa, bmd, linestyle="none", marker="o", ms=4.2, mfc="none", mec="black", mew=1.1, zorder=2)
ax_a.plot(fit_band_x, fit_band_y, color="black", lw=6.5, solid_capstyle="round", zorder=3)
ax_a.plot(fit_dot_x, fit_dot_y, linestyle="none", marker="o", ms=6.2, mfc="black", mec="black",
          mew=0.0, zorder=3)
style_axes(ax_a, (6.0, 237.2), (0.835, 4.303), y_ticks_a)

# panel B
ax_b.plot(line_x, line_fit, color="black", lw=2.2, solid_capstyle="butt", zorder=3)
ax_b.plot(line_x, line_bound_a, color="black", lw=0.9, linestyle=(0, (1, 3)), zorder=2)
ax_b.plot(line_x, line_bound_b, color="black", lw=0.9, linestyle=(0, (1, 3)), zorder=2)
ax_b.vlines(dpa, 0, 0.03, transform=ax_b.get_xaxis_transform(), color="black", lw=0.6, zorder=1)
style_axes(ax_b, (6.35, 236.1), (2.0483, 2.7184), y_ticks_b)

# axis titles and panel letters
for cx, ty in ((427.9 / W, 20 / W), (1239.9 / W, 835 / W)):
    fig.text(cx, 4.5 / H, "Serum DPA (umol/L)", ha="center", va="baseline",
             fontfamily=SERIF, fontsize=FS)
    fig.text(ty, 1 - 335 / H, "Head BMD (g/cm2)", ha="center", va="baseline", rotation=90,
             rotation_mode="anchor", fontfamily=SERIF, fontsize=FS)
fig.text(1 / W, 1 - 24.5 / H, "A", ha="left", va="baseline", fontfamily=SANS,
         fontweight="bold", fontsize=17.6)
fig.text(812.5 / W, 1 - 24 / H, "B", ha="left", va="baseline", fontfamily=SANS,
         fontweight="bold", fontsize=17.6)

fig.savefig("out.png", dpi=100)
plt.close(fig)
